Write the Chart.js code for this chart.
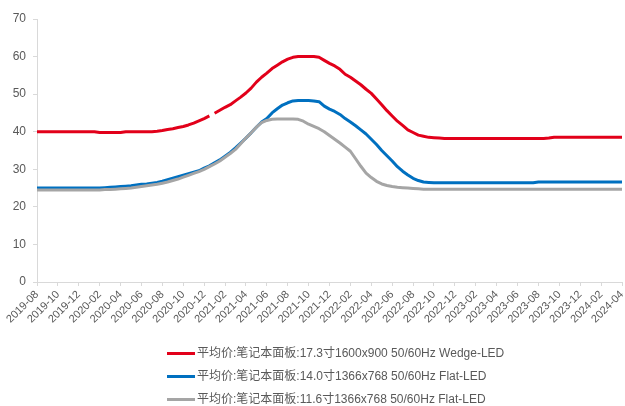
<!DOCTYPE html>
<html>
<head>
<meta charset="utf-8">
<script src="https://cdn.jsdelivr.net/npm/chart.js@4/dist/chart.umd.min.js"></script>
<style>
  body { margin: 0; background: #fff; }
  #wrap { position: relative; width: 625px; height: 406px; }
  #legend { position: absolute; left: 167px; top: 342px; font: 12px "Liberation Sans", "Noto Sans CJK SC", sans-serif; color: #595959; }
  #legend div { height: 23px; line-height: 23px; white-space: nowrap; }
  #legend span.swatch { display: inline-block; width: 28px; height: 3px; vertical-align: middle; margin-right: 2px; }
</style>
</head>
<body>
<div id="wrap">
  <canvas id="priceChart"></canvas>
  <div id="legend"></div>
</div>
<script>
// x axis labels, one every 2 months (data is half-monthly)
const tickLabels = ['2019-08', '2019-10', '2019-12', '2020-02', '2020-04', '2020-06', '2020-08', '2020-10',
  '2020-12', '2021-02', '2021-04', '2021-06', '2021-08', '2021-10', '2021-12', '2022-02', '2022-04',
  '2022-06', '2022-08', '2022-10', '2022-12', '2023-02', '2023-04', '2023-06', '2023-08', '2023-10',
  '2023-12', '2024-02', '2024-04'];

const seriesNames = [
  '平均价:笔记本面板:17.3寸1600x900 50/60Hz Wedge-LED',
  '平均价:笔记本面板:14.0寸1366x768 50/60Hz Flat-LED',
  '平均价:笔记本面板:11.6寸1366x768 50/60Hz Flat-LED'
];

// 17.3" Wedge-LED, half-monthly, USD
const price173 = [
  40.0, 40.0, 40.0, 40.0, 40.0, 40.0, 40.0, 40.0, 40.0, 40.0, 40.0, 40.0,
  39.8, 39.8, 39.8, 39.8, 39.8,
  40.0, 40.0, 40.0, 40.0, 40.0, 40.0,
  40.1, 40.3, 40.6, 40.8, 41.1, 41.4, 41.8, 42.3, 42.9, 43.5,
  44.2, 44.9, 45.7, 46.5, 47.2, 48.2, 49.2, 50.3, 51.6, 53.2,
  54.5, 55.6, 56.8, 57.7, 58.6, 59.3, 59.8, 60.0, 60.0, 60.0,
  60.0, 59.8, 59.0, 58.2, 57.5, 56.6, 55.3, 54.5, 53.5, 52.5,
  51.3, 50.2, 48.7, 47.2, 45.6, 44.2, 42.8, 41.7, 40.5, 39.8,
  39.1, 38.8, 38.5, 38.4, 38.3,
  38.2, 38.2, 38.2, 38.2, 38.2, 38.2, 38.2, 38.2, 38.2, 38.2,
  38.2, 38.2, 38.2, 38.2, 38.2, 38.2, 38.2, 38.2, 38.2, 38.2,
  38.3,
  38.5, 38.5, 38.5, 38.5, 38.5, 38.5, 38.5, 38.5, 38.5, 38.5, 38.5, 38.5, 38.5, 38.5
];

// 14.0" Flat-LED
const price140 = [
  25.0, 25.0, 25.0, 25.0, 25.0, 25.0, 25.0, 25.0, 25.0, 25.0, 25.0, 25.0, 25.0,
  25.1, 25.2, 25.3, 25.4, 25.5, 25.6, 25.8, 26.0, 26.1, 26.3,
  26.5, 26.8, 27.2, 27.6, 28.0, 28.4, 28.8, 29.2, 29.6, 30.3,
  30.9, 31.7, 32.5, 33.5, 34.5, 35.7, 37.0, 38.3, 39.7, 41.2,
  42.6, 43.5, 45.0, 46.1, 47.1, 47.7, 48.2, 48.3, 48.3, 48.3,
  48.2, 48.0, 46.8, 46.0, 45.4, 44.6, 43.5, 42.6, 41.6, 40.5,
  39.4, 38.0, 36.6, 35.0, 33.6, 32.2, 30.7, 29.5, 28.5, 27.6,
  27.0, 26.6, 26.5,
  26.4, 26.4, 26.4, 26.4, 26.4, 26.4, 26.4, 26.4, 26.4, 26.4,
  26.4, 26.4, 26.4, 26.4, 26.4, 26.4, 26.4, 26.4, 26.4, 26.4,
  26.6, 26.6, 26.6, 26.6, 26.6, 26.6, 26.6, 26.6, 26.6, 26.6,
  26.6, 26.6, 26.6, 26.6, 26.6, 26.6, 26.6
];

// 11.6" Flat-LED
const price116 = [
  24.5, 24.5, 24.5, 24.5, 24.5, 24.5, 24.5, 24.5, 24.5, 24.5, 24.5, 24.5, 24.5,
  24.6, 24.6, 24.7, 24.8, 24.9, 25.0, 25.2, 25.4, 25.6, 25.8,
  26.0, 26.3, 26.6, 27.0, 27.4, 27.9, 28.4, 28.9, 29.4, 30.0,
  30.7, 31.4, 32.2, 33.2, 34.2, 35.3, 36.8, 38.3, 39.7, 41.2,
  42.4, 43.0, 43.3, 43.4, 43.4, 43.4, 43.4, 43.3, 42.8, 42.0,
  41.4, 40.8, 40.0, 39.0, 38.0, 37.0, 35.9, 34.8, 32.8, 30.8,
  29.0, 27.8, 26.8, 26.1, 25.7, 25.4, 25.2, 25.1, 25.0, 24.9,
  24.8,
  24.7, 24.7, 24.7, 24.7, 24.7, 24.7, 24.7, 24.7, 24.7, 24.7,
  24.7, 24.7, 24.7, 24.7, 24.7, 24.7, 24.7, 24.7, 24.7, 24.7,
  24.7, 24.7, 24.7, 24.7, 24.7, 24.7, 24.7, 24.7, 24.7, 24.7,
  24.7, 24.7, 24.7, 24.7, 24.7, 24.7, 24.7, 24.7, 24.7
];

// the 17.3" series has a missing reading right after this point
const redGapAfter = 33;

const colors = ['#E2001A', '#0070C0', '#A5A5A5'];
const halfMonths = price173.map((_, i) => i);

Chart.defaults.font.family = '"Liberation Sans", "Noto Sans CJK SC", sans-serif';
Chart.defaults.color = '#595959';

const datasets = [price173, price140, price116].map((values, i) => ({
  label: seriesNames[i],
  data: values,
  borderColor: colors[i],
  backgroundColor: colors[i],
  borderWidth: 3,
  pointRadius: 0,
  tension: 0,
  borderJoinStyle: 'round',
  order: 3 - i, // grey drawn last, on top
  segment: i === 0 ? {
    borderColor: ctx => ctx.p0DataIndex === redGapAfter ? 'rgba(0,0,0,0)' : undefined
  } : undefined
}));

const ctx = document.getElementById('priceChart').getContext('2d');
new Chart(ctx, {
  type: 'line',
  data: { labels: halfMonths, datasets: datasets },
  options: {
    responsive: true,
    maintainAspectRatio: false,
    animation: false,
    layout: { padding: { top: 19, right: 3, left: 0, bottom: 0 } },
    plugins: { legend: { display: false }, tooltip: { enabled: false } },
    scales: {
      x: {
        type: 'linear',
        min: 0,
        max: 112,
        grid: { drawOnChartArea: false, color: '#D9D9D9', tickLength: 4 },
        border: { color: '#D9D9D9' },
        ticks: {
          stepSize: 4,
          autoSkip: false,
          maxRotation: 45,
          minRotation: 45,
          padding: 2,
          font: { size: 11 },
          callback: v => tickLabels[v / 4]
        },
        afterFit: scale => {
          scale.height = 124;
          scale.paddingRight = 0;
          scale.paddingLeft = 0;
        }
      },
      y: {
        min: 0,
        max: 70,
        grid: { drawOnChartArea: false, color: '#D9D9D9', tickLength: 4 },
        border: { color: '#D9D9D9' },
        ticks: { stepSize: 10, padding: 7, font: { size: 12 } },
        afterFit: scale => { scale.width = 37; }
      }
    }
  }
});

// legend: one entry per row
const legend = document.getElementById('legend');
seriesNames.forEach((name, i) => {
  const row = document.createElement('div');
  row.innerHTML = '<span class="swatch" style="background:' + colors[i] + '"></span>' + name;
  legend.appendChild(row);
});
</script>
</body>
</html>
